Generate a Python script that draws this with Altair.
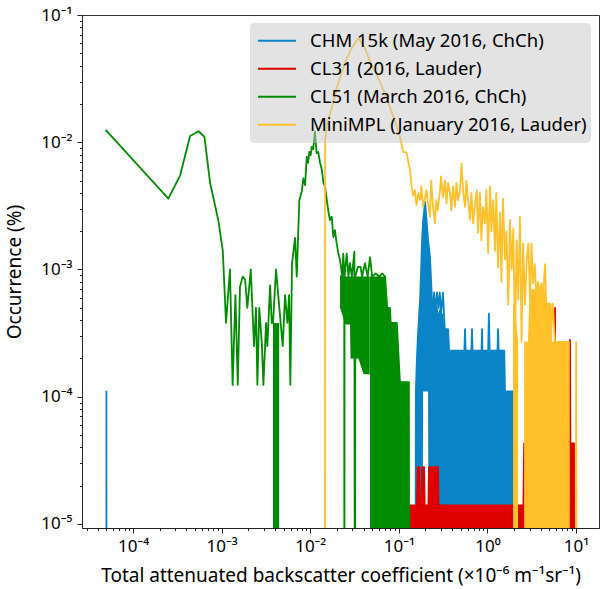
import altair as alt
import pandas as pd

FLOOR = 1e-7  # zero-occurrence bins (drawn below the axis, clipped)

names = ["CHM 15k (May 2016, ChCh)", "CL31 (2016, Lauder)",
         "CL51 (March 2016, ChCh)", "MiniMPL (January 2016, Lauder)"]
colors = ["#0a83c7", "#de0000", "#008c00", "#ffc02a"]

# ---------------- CHM 15k ----------------
chm_x = [4.99e-5, 5.0e-5, 5.01e-5, 0.152, 0.156, 0.160, 0.165, 0.170, 0.174, 0.178,
         0.183, 0.188, 0.198, 0.205, 0.214, 0.225, 0.237, 0.243, 0.250, 0.260,
         0.270, 0.280, 0.290, 0.300, 0.315, 0.330, 0.360, 0.370, 0.550, 0.559,
         0.568, 0.660, 0.670, 0.680, 0.860, 0.869, 0.880, 1.02, 1.04, 1.06,
         1.30, 1.32, 1.34, 1.55, 1.58, 2.16, 2.17]
chm_y = [0, 1.1e-4, 0, 0, 1.1e-4, 2.0e-4, 3.2e-4, 4.5e-4, 6.0e-4, 9.3e-4,
         1.7e-3, 2.4e-3, 3.4e-3, 2.5e-3, 1.7e-3, 1.25e-3, 5.7e-4, 4.5e-4, 6.6e-4, 4.8e-4,
         6.6e-4, 5.0e-4, 6.6e-4, 4.5e-4, 6.6e-4, 3.4e-4, 3.4e-4, 2.3e-4, 2.3e-4, 3.4e-4,
         2.3e-4, 2.3e-4, 3.4e-4, 2.3e-4, 2.3e-4, 3.4e-4, 2.3e-4, 2.3e-4, 4.5e-4, 2.3e-4,
         2.3e-4, 3.4e-4, 2.3e-4, 2.3e-4, 1.1e-4, 1.1e-4, 0]
chm_fill_x = [0.156, 0.165, 0.174, 0.178, 0.183, 0.188, 0.198, 0.205, 0.214, 0.219,
              0.225, 0.237, 0.243, 0.25, 0.26, 0.27, 0.28, 0.29, 0.30, 0.315,
              0.33, 0.36, 0.37, 1.55, 1.58, 2.16]
chm_fill_top = [1.1e-4, 3.2e-4, 6e-4, 9.3e-4, 1.7e-3, 2.4e-3, 3.4e-3, 2.5e-3, 1.7e-3, 1.5e-3,
                1.25e-3, 5.7e-4, 4.5e-4, 5.5e-4, 4.8e-4, 5.5e-4, 4.5e-4, 5.0e-4, 4.5e-4, 4.5e-4,
                3.4e-4, 3.4e-4, 2.3e-4, 2.3e-4, 1.1e-4, 1.1e-4]
chm_fill_bottom = [0, 0, 0, 0, 0, 1.1e-4, 1.1e-4, 1.1e-4, 1.1e-4, 0,
                   0, 0, 0, 0, 0, 0, 0, 0, 0, 0,
                   0, 0, 0, 0, 0, 0]

# ---------------- CL31 ----------------
cl31_x = [0.130, 0.134, 0.160, 0.163, 0.170, 0.173, 0.181, 0.183, 0.193, 0.196,
          0.216, 0.219, 0.277, 0.281, 2.02, 2.05, 2.08, 2.55, 2.6, 2.8,
          2.85, 5.7, 5.8, 5.9, 8.0, 8.1, 8.5, 8.56, 8.65, 9.5, 9.6]
cl31_y = [0, 1.4e-5, 1.4e-5, 2.8e-5, 2.8e-5, 1.4e-5, 1.4e-5, 2.8e-5, 2.8e-5, 1.4e-5,
          1.4e-5, 2.8e-5, 2.8e-5, 1.4e-5, 1.4e-5, 2.8e-5, 1.4e-5, 1.4e-5, 4.3e-5, 4.3e-5,
          1.4e-5, 1.4e-5, 5.0e-4, 1.4e-5, 1.4e-5, 4.3e-5, 4.3e-5, 2.8e-4, 4.3e-5, 4.3e-5, 0]
cl31_fill_x = [0.134, 0.160, 0.163, 0.170, 0.173, 0.181, 0.183, 0.193, 0.196, 0.216,
               0.219, 0.277, 0.281, 2.02, 2.05, 2.08, 2.55, 2.6, 2.8, 2.85,
               8.0, 8.1, 9.5]
cl31_fill_top = [1.4e-5, 1.4e-5, 2.8e-5, 2.8e-5, 1.4e-5, 1.4e-5, 2.8e-5, 2.8e-5, 1.4e-5, 1.4e-5,
                 2.8e-5, 2.8e-5, 1.4e-5, 1.4e-5, 2.8e-5, 1.4e-5, 1.4e-5, 4.3e-5, 4.3e-5, 1.4e-5,
                 1.4e-5, 4.3e-5, 4.3e-5]

# ---------------- CL51 ----------------
cl51_x = [4.9e-5, 2.5e-4, 3.4e-4, 4.4e-4, 5.5e-4, 6.4e-4, 7.4e-4, 9.2e-4, 1.03e-3, 1.12e-3,
          1.24e-3, 1.33e-3, 1.43e-3, 1.52e-3, 1.61e-3, 1.73e-3, 1.84e-3, 1.95e-3, 2.13e-3, 2.32e-3,
          2.44e-3, 2.53e-3, 2.66e-3, 2.85e-3, 2.96e-3, 3.17e-3, 3.28e-3, 3.52e-3, 3.68e-3, 3.80e-3,
          4.11e-3, 4.48e-3, 4.89e-3, 5.20e-3, 5.52e-3, 5.77e-3, 5.96e-3, 6.23e-3, 6.74e-3, 7.04e-3,
          7.53e-3, 8.02e-3, 8.36e-3, 8.75e-3, 9.13e-3, 9.45e-3, 9.77e-3, 1.01e-2, 1.04e-2, 1.08e-2,
          1.13e-2, 1.18e-2, 1.23e-2, 1.29e-2, 1.35e-2, 1.41e-2, 1.47e-2, 1.54e-2, 1.61e-2, 1.67e-2,
          1.75e-2, 1.82e-2, 1.90e-2, 1.99e-2, 2.07e-2, 2.17e-2, 2.30e-2, 2.36e-2, 2.42e-2, 2.43e-2,
          2.44e-2, 2.58e-2, 2.70e-2, 2.81e-2, 2.95e-2, 3.15e-2, 3.19e-2, 3.23e-2, 3.45e-2, 3.70e-2,
          3.85e-2, 4.15e-2, 4.45e-2, 4.73e-2, 5.0e-2, 5.5e-2, 6.0e-2, 6.5e-2, 7.0e-2, 7.4e-2,
          7.95e-2, 8.1e-2, 9.5e-2, 9.8e-2, 0.103, 0.130, 0.131]
cl51_y = [1.25e-2, 3.6e-3, 5.5e-3, 1.12e-2, 1.22e-2, 1.1e-2, 4.8e-3, 2.4e-3, 1.4e-3, 3.8e-4,
          1.0e-3, 1.24e-4, 6.3e-4, 1.24e-4, 7.3e-4, 8.8e-4, 8.3e-4, 5.0e-4, 1.0e-3, 2.5e-4,
          5.0e-4, 1.24e-4, 5.0e-4, 2.5e-4, 1.24e-4, 3.8e-4, 2.5e-4, 7.5e-4, 3.8e-4, 3.8e-4,
          1.0e-3, 5.0e-4, 2.5e-4, 6.3e-4, 3.8e-4, 6.3e-4, 1.24e-4, 1.12e-3, 1.77e-3, 8.8e-4,
          3.5e-3, 4.1e-3, 5.2e-3, 4.6e-3, 7.7e-3, 6.9e-3, 8.4e-3, 7.9e-3, 9.2e-3, 8.8e-3,
          1.21e-2, 8.2e-3, 8.4e-3, 6.9e-3, 6.1e-3, 4.8e-3, 4.5e-3, 3.5e-3, 2.8e-3, 2.45e-3,
          2.6e-3, 1.8e-3, 2.04e-3, 1.6e-3, 1.35e-3, 1.19e-3, 8.8e-4, 1.33e-3, 9.5e-4, 0,
          8.8e-4, 1.33e-3, 8.8e-4, 1.12e-3, 8.8e-4, 1.38e-3, 0, 8.8e-4, 1.05e-3, 1.05e-3,
          8.8e-4, 1.12e-3, 8.8e-4, 1.25e-3, 8.8e-4, 9.3e-4, 8.8e-4, 9.3e-4, 8.8e-4, 5.0e-4,
          5.0e-4, 3.8e-4, 3.8e-4, 2.5e-4, 1.3e-4, 1.3e-4, 0]
cl51_fill = [
    ([3.80e-3, 4.46e-3], [3.8e-4, 3.8e-4], [0, 0]),
    ([2.17e-2, 2.5e-2, 2.81e-2, 2.85e-2, 3.5e-2, 4.0e-2, 4.7e-2],
     [9e-4, 8.8e-4, 8.8e-4, 8.8e-4, 8.8e-4, 8.8e-4, 8.8e-4],
     [5e-4, 3.7e-4, 3.7e-4, 2.0e-4, 2.0e-4, 1.5e-4, 1.5e-4]),
    ([4.73e-2, 7.0e-2, 7.4e-2, 7.95e-2, 8.1e-2, 9.5e-2, 9.8e-2, 0.103, 0.130],
     [8.8e-4, 8.8e-4, 5.0e-4, 5.0e-4, 3.8e-4, 3.8e-4, 2.5e-4, 1.3e-4, 1.3e-4],
     [0, 0, 0, 0, 0, 0, 0, 0, 0]),
]

# ---------------- MiniMPL ----------------
mpl_x = [1.465e-2, 1.47e-2, 1.54e-2, 1.75e-2, 1.99e-2, 2.27e-2, 2.58e-2, 2.94e-2, 3.5e-2, 4.15e-2,
         4.82e-2, 6.13e-2, 7.3e-2, 8.7e-2, 0.103, 0.112, 0.122, 0.134, 0.139, 0.145,
         0.152, 0.158, 0.166, 0.174, 0.180, 0.188, 0.198, 0.205, 0.214, 0.225,
         0.232, 0.243, 0.256, 0.264, 0.275, 0.292, 0.300, 0.315, 0.332, 0.346,
         0.360, 0.378, 0.392, 0.409, 0.431, 0.446, 0.466, 0.491, 0.510, 0.531,
         0.559, 0.580, 0.605, 0.637, 0.660, 0.690, 0.724, 0.760, 0.783, 0.825,
         0.855, 0.890, 0.940, 0.975, 1.02, 1.07, 1.11, 1.16, 1.22, 1.26,
         1.32, 1.39, 1.44, 1.50, 1.58, 1.64, 1.72, 1.80, 1.88, 1.96,
         2.05, 2.14, 2.23, 2.33, 2.43, 2.53, 2.66, 2.78, 2.90, 3.03,
         3.15, 3.28, 3.43, 3.58, 3.73, 3.90, 4.07, 4.24, 4.47, 4.62,
         4.83, 5.03, 5.2, 5.45, 5.8, 6.5, 7.9, 7.95, 8.25, 8.3,
         8.35, 9.95, 10.05, 10.15]
mpl_y = [0, 1.01e-2, 1.37e-2, 1.85e-2, 2.65e-2, 3.58e-2, 4.56e-2, 5.47e-2, 6.6e-2, 5.47e-2,
         4.17e-2, 3.0e-2, 2.2e-2, 1.59e-2, 1.11e-2, 8.4e-3, 8.3e-3, 6.0e-3, 4.6e-3, 3.8e-3,
         4.2e-3, 3.2e-3, 4.0e-3, 3.5e-3, 4.5e-3, 3.1e-3, 3.7e-3, 4.2e-3, 3.3e-3, 2.6e-3,
         5.0e-3, 3.1e-3, 2.3e-3, 3.5e-3, 2.9e-3, 4.2e-3, 5.4e-3, 3.7e-3, 5.0e-3, 3.3e-3,
         4.8e-3, 4.0e-3, 2.9e-3, 4.5e-3, 3.1e-3, 4.8e-3, 3.5e-3, 4.2e-3, 6.8e-3, 4.2e-3,
         3.1e-3, 5.0e-3, 3.5e-3, 2.45e-3, 4.0e-3, 2.3e-3, 3.3e-3, 4.2e-3, 1.94e-3, 4.0e-3,
         1.7e-3, 3.1e-3, 2.3e-3, 4.2e-3, 1.35e-3, 4.5e-3, 2.0e-3, 3.5e-3, 1.4e-3, 4.0e-3,
         1.04e-3, 2.8e-3, 8e-4, 3.6e-3, 1.2e-3, 2.0e-3, 5.3e-4, 2.45e-3, 1.0e-3, 2.1e-3,
         2.7e-4, 1.7e-3, 5.8e-4, 2.6e-3, 2.7e-4, 1.6e-3, 5.3e-4, 1.2e-3, 1.6e-3, 5.8e-4,
         1.6e-3, 7.8e-4, 1.1e-3, 5.8e-4, 8e-4, 6.3e-4, 7.8e-4, 5.8e-4, 1.1e-3, 5.4e-4,
         5.4e-4, 5.4e-4, 2.7e-4, 5.4e-4, 2.7e-4, 2.7e-4, 2.7e-4, 0, 0, 2.7e-4,
         0, 0, 2.7e-4, 0]
mpl_fill = [
    ([1.95, 2.05, 2.22], [5.3e-4, 5.3e-4, 2.7e-4], [0, 0, 0]),
    ([2.6, 2.87, 3.0, 4.4, 4.6, 5.3, 5.4, 7.9],
     [2.7e-4, 2.7e-4, 7e-4, 7e-4, 5.4e-4, 5.4e-4, 2.7e-4, 2.7e-4],
     [0, 0, 0, 0, 0, 0, 0, 0]),
]

# ---------------- axes ticks ----------------
x_decades = [1e-5, 1e-4, 1e-3, 1e-2, 1e-1, 1, 10]
y_decades = [1e-5, 1e-4, 1e-3, 1e-2, 1e-1]
X_DOMAIN = [2.65e-5, 18.2]
Y_DOMAIN = [9.3e-6, 0.1]

x_ticks = [m * d for d in x_decades for m in range(1, 10)
           if X_DOMAIN[0] <= m * d <= X_DOMAIN[1]]
y_ticks = [m * d for d in y_decades for m in range(1, 10)
           if Y_DOMAIN[0] <= m * d <= Y_DOMAIN[1]]


def line_df(xs, ys, name):
    assert len(xs) == len(ys), name
    return pd.DataFrame({"x": xs, "y": [max(v, FLOOR) for v in ys],
                         "i": list(range(len(xs))), "series": name})


def fill_df(segs):
    rows = []
    for k, (xs, tops, bots) in enumerate(segs):
        assert len(xs) == len(tops) == len(bots)
        for a, t, b in zip(xs, tops, bots):
            rows.append({"x": a, "top": max(t, FLOOR), "bottom": max(b, FLOOR), "seg": k})
    return pd.DataFrame(rows)


is_major = "abs(log(datum.value)/LN10 - round(log(datum.value)/LN10)) < 0.001"
sup = "['\u207b\u2075','\u207b\u2074','\u207b\u00b3','\u207b\u00b2','\u207b\u00b9','\u2070','\u00b9']"
label_expr = f"{is_major} ? '10' + {sup}[round(log(datum.value)/LN10) + 5] : ''"
tick_size = {"condition": {"test": is_major, "value": 5}, "value": 2.5}

xaxis = alt.Axis(values=x_ticks, labelExpr=label_expr, tickSize=tick_size,
                 title="Total attenuated backscatter coefficient (\u00d710\u207b\u2076 m\u207b\u00b9sr\u207b\u00b9)",
                 titlePadding=12, labelPadding=5)
yaxis = alt.Axis(values=y_ticks, labelExpr=label_expr, tickSize=tick_size,
                 title="Occurrence (%)", titlePadding=16, labelPadding=5)

xscale = alt.Scale(type="log", domain=X_DOMAIN, nice=False)
yscale = alt.Scale(type="log", domain=Y_DOMAIN, nice=False)
cscale = alt.Scale(domain=names, range=colors)


def fill_layer(segs, color):
    return alt.Chart(fill_df(segs)).mark_area(clip=True, color=color, opacity=1).encode(
        x=alt.X("x:Q", scale=xscale, axis=xaxis),
        y=alt.Y("top:Q", scale=yscale, axis=yaxis),
        y2="bottom:Q",
        detail="seg:N",
    )


def line_layer(xs, ys, name):
    return alt.Chart(line_df(xs, ys, name)).mark_line(
        clip=True, strokeWidth=1.8, strokeJoin="round").encode(
        x=alt.X("x:Q", scale=xscale, axis=xaxis),
        y=alt.Y("y:Q", scale=yscale, axis=yaxis),
        order="i:Q",
        color=alt.Color("series:N", scale=cscale, title=None),
    )


layers = [
    fill_layer([(chm_fill_x, chm_fill_top, chm_fill_bottom)], colors[0]),
    line_layer(chm_x, chm_y, names[0]),
    fill_layer([(cl31_fill_x, cl31_fill_top, [0] * len(cl31_fill_x))], colors[1]),
    line_layer(cl31_x, cl31_y, names[1]),
    fill_layer(cl51_fill, colors[2]),
    line_layer(cl51_x, cl51_y, names[2]),
    fill_layer(mpl_fill, colors[3]),
    line_layer(mpl_x, mpl_y, names[3]),
]

chart = alt.layer(*layers).properties(
    width=517, height=513,
    autosize=alt.AutoSizeParams(type="none"),
    padding={"left": 82, "top": 15, "right": 1, "bottom": 61},
    background="white",
).configure_view(
    stroke="#333", strokeWidth=1
).configure_axis(
    grid=False, labelFont="Noto Sans", titleFont="Noto Sans",
    labelFontSize=17, titleFontSize=19, titleFontWeight="normal",
    labelColor="black", titleColor="black", domainColor="#222", tickColor="#222",
    domainWidth=1, tickWidth=1, labelOverlap=False, labelFlush=False,
).configure_legend(
    orient="none", legendX=168, legendY=8,
    fillColor="rgba(200,200,200,0.5)", cornerRadius=4, padding=4,
    labelFont="Noto Sans", labelFontSize=18.5, labelColor="black",
    symbolType="stroke", symbolSize=1444, symbolStrokeWidth=2, symbolOffset=3,
    labelOffset=13, rowPadding=0, clipHeight=27.5, labelLimit=400,
)

chart.save("out.html", embed_options={"renderer": "svg", "actions": False})
